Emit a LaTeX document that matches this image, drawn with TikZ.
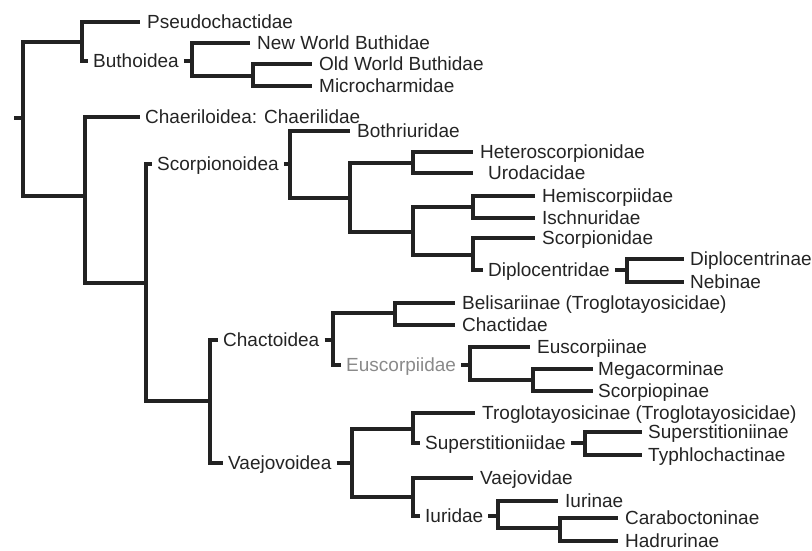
\documentclass[tikz,border=0pt]{standalone}
\usepackage{fontspec}
\setmainfont{Liberation Sans}
\definecolor{linec}{HTML}{222222}
\definecolor{txtc}{HTML}{242424}
\definecolor{euscc}{HTML}{8A8A8A}
\begin{document}
\begin{tikzpicture}[x=1pt,y=-1pt,
  br/.style={draw=linec, line width=3.2pt},
  leaf/.style={anchor=west, inner xsep=7pt, inner ysep=0pt, text height=13.6pt, text depth=0pt, text=txtc, font=\fontsize{19}{22}\selectfont},
  grp/.style={leaf, inner xsep=5pt}]
\useasboundingbox (0,0) rectangle (812,551);
% labels
\node[leaf] (pseudo) at (140,22) {Pseudochactidae};
\node[grp] (buth) at (88,61) {Buthoidea};
\node[leaf] (nwb) at (250,43) {New World Buthidae};
\node[leaf] (owb) at (312,64) {Old World Buthidae};
\node[leaf] (micro) at (312,86) {Microcharmidae};
\node[leaf,inner xsep=5pt] (chaer) at (140,117) {Chaeriloidea: Chaerilidae};
\node[grp] (scorp) at (152,164) {Scorpionoidea};
\node[leaf] (both) at (350,131) {Bothriuridae};
\node[leaf] (hetero) at (473,152) {Heteroscorpionidae};
\node[leaf,inner xsep=15pt] (uroda) at (473,173) {Urodacidae};
\node[leaf] (hemi) at (535,196) {Hemiscorpiidae};
\node[leaf] (ischn) at (535,218) {Ischnuridae};
\node[leaf] (scorpid) at (535,238) {Scorpionidae};
\node[grp] (diplo) at (483,270) {Diplocentridae};
\node[leaf,inner xsep=6pt] (diplocin) at (684,259) {Diplocentrinae};
\node[leaf,inner xsep=6pt] (nebi) at (684,282) {Nebinae};
\node[grp] (chact) at (218,340) {Chactoidea};
\node[leaf] (belis) at (455,303) {Belisariinae (Troglotayosicidae)};
\node[leaf] (chactid) at (455,325) {Chactidae};
\node[grp,text=euscc] (eusc) at (341,365) {Euscorpiidae};
\node[leaf] (euscin) at (530,347) {Euscorpiinae};
\node[leaf,inner xsep=5pt] (mega) at (593,369) {Megacorminae};
\node[leaf,inner xsep=5pt] (scorpio) at (593,391) {Scorpiopinae};
\node[grp] (vaejo) at (223,463) {Vaejovoidea};
\node[leaf] (troglo) at (475,413) {Troglotayosicinae (Troglotayosicidae)};
\node[grp] (superst) at (420,443) {Superstitioniidae};
\node[leaf,inner xsep=6pt] (supin) at (642,432) {Superstitioniinae};
\node[leaf,inner xsep=6pt] (typhlo) at (642,455) {Typhlochactinae};
\node[leaf] (vaejid) at (473,478) {Vaejovidae};
\node[grp] (iurid) at (420,516) {Iuridae};
\node[leaf] (iurin) at (558,501) {Iurinae};
\node[leaf] (carabo) at (618,518) {Caraboctoninae};
\node[leaf] (hadru) at (618,541) {Hadrurinae};
% internal points
\coordinate (stub) at (14,118);
\coordinate (root) at (23,118);
\coordinate (nA) at (82,42);
\coordinate (nB) at (85,196);
\coordinate (nC) at (146,283);
\coordinate (nD) at (210,401);
\coordinate (buB) at (192,61);
\coordinate (nE) at (253,76);
\coordinate (scB) at (290,164);
\coordinate (nF) at (350,198);
\coordinate (nG) at (413,163);
\coordinate (nH) at (413,232);
\coordinate (nI) at (473,207);
\coordinate (nJ) at (473,255);
\coordinate (diB) at (627,270);
\coordinate (chB) at (333,340);
\coordinate (nK) at (395,313);
\coordinate (euB) at (470,365);
\coordinate (nL) at (533,380);
\coordinate (vaB) at (352,463);
\coordinate (nM) at (413,429);
\coordinate (suB) at (585,443);
\coordinate (nN) at (413,497);
\coordinate (iuB) at (498,516);
\coordinate (nO) at (560,528);
% branches
\draw[br] (stub) -- (root);
\draw[br] (root) |- (nA);
\draw[br] (root) |- (nB);
\draw[br] (nA) |- (pseudo.west);
\draw[br] (nA) |- (buth.west);
\draw[br] (buth.east) -- (buB);
\draw[br] (buB) |- (nwb.west);
\draw[br] (buB) |- (nE);
\draw[br] (nE) |- (owb.west);
\draw[br] (nE) |- (micro.west);
\draw[br] (nB) |- (chaer.west);
\draw[br] (nB) |- (nC);
\draw[br] (nC) |- (scorp.west);
\draw[br] (nC) |- (nD);
\draw[br] (scorp.east) -- (scB);
\draw[br] (scB) |- (both.west);
\draw[br] (scB) |- (nF);
\draw[br] (nF) |- (nG);
\draw[br] (nF) |- (nH);
\draw[br] (nG) |- (hetero.west);
\draw[br] (nG) |- (uroda.west);
\draw[br] (nH) |- (nI);
\draw[br] (nH) |- (nJ);
\draw[br] (nI) |- (hemi.west);
\draw[br] (nI) |- (ischn.west);
\draw[br] (nJ) |- (scorpid.west);
\draw[br] (nJ) |- (diplo.west);
\draw[br] (diplo.east) -- (diB);
\draw[br] (diB) |- (diplocin.west);
\draw[br] (diB) |- (nebi.west);
\draw[br] (nD) |- (chact.west);
\draw[br] (nD) |- (vaejo.west);
\draw[br] (chact.east) -- (chB);
\draw[br] (chB) |- (nK);
\draw[br] (chB) |- (eusc.west);
\draw[br] (nK) |- (belis.west);
\draw[br] (nK) |- (chactid.west);
\draw[br] (eusc.east) -- (euB);
\draw[br] (euB) |- (euscin.west);
\draw[br] (euB) |- (nL);
\draw[br] (nL) |- (mega.west);
\draw[br] (nL) |- (scorpio.west);
\draw[br] (vaejo.east) -- (vaB);
\draw[br] (vaB) |- (nM);
\draw[br] (vaB) |- (nN);
\draw[br] (nM) |- (troglo.west);
\draw[br] (nM) |- (superst.west);
\draw[br] (superst.east) -- (suB);
\draw[br] (suB) |- (supin.west);
\draw[br] (suB) |- (typhlo.west);
\draw[br] (nN) |- (vaejid.west);
\draw[br] (nN) |- (iurid.west);
\draw[br] (iurid.east) -- (iuB);
\draw[br] (iuB) |- (iurin.west);
\draw[br] (iuB) |- (nO);
\draw[br] (nO) |- (carabo.west);
\draw[br] (nO) |- (hadru.west);
\end{tikzpicture}
\end{document}
